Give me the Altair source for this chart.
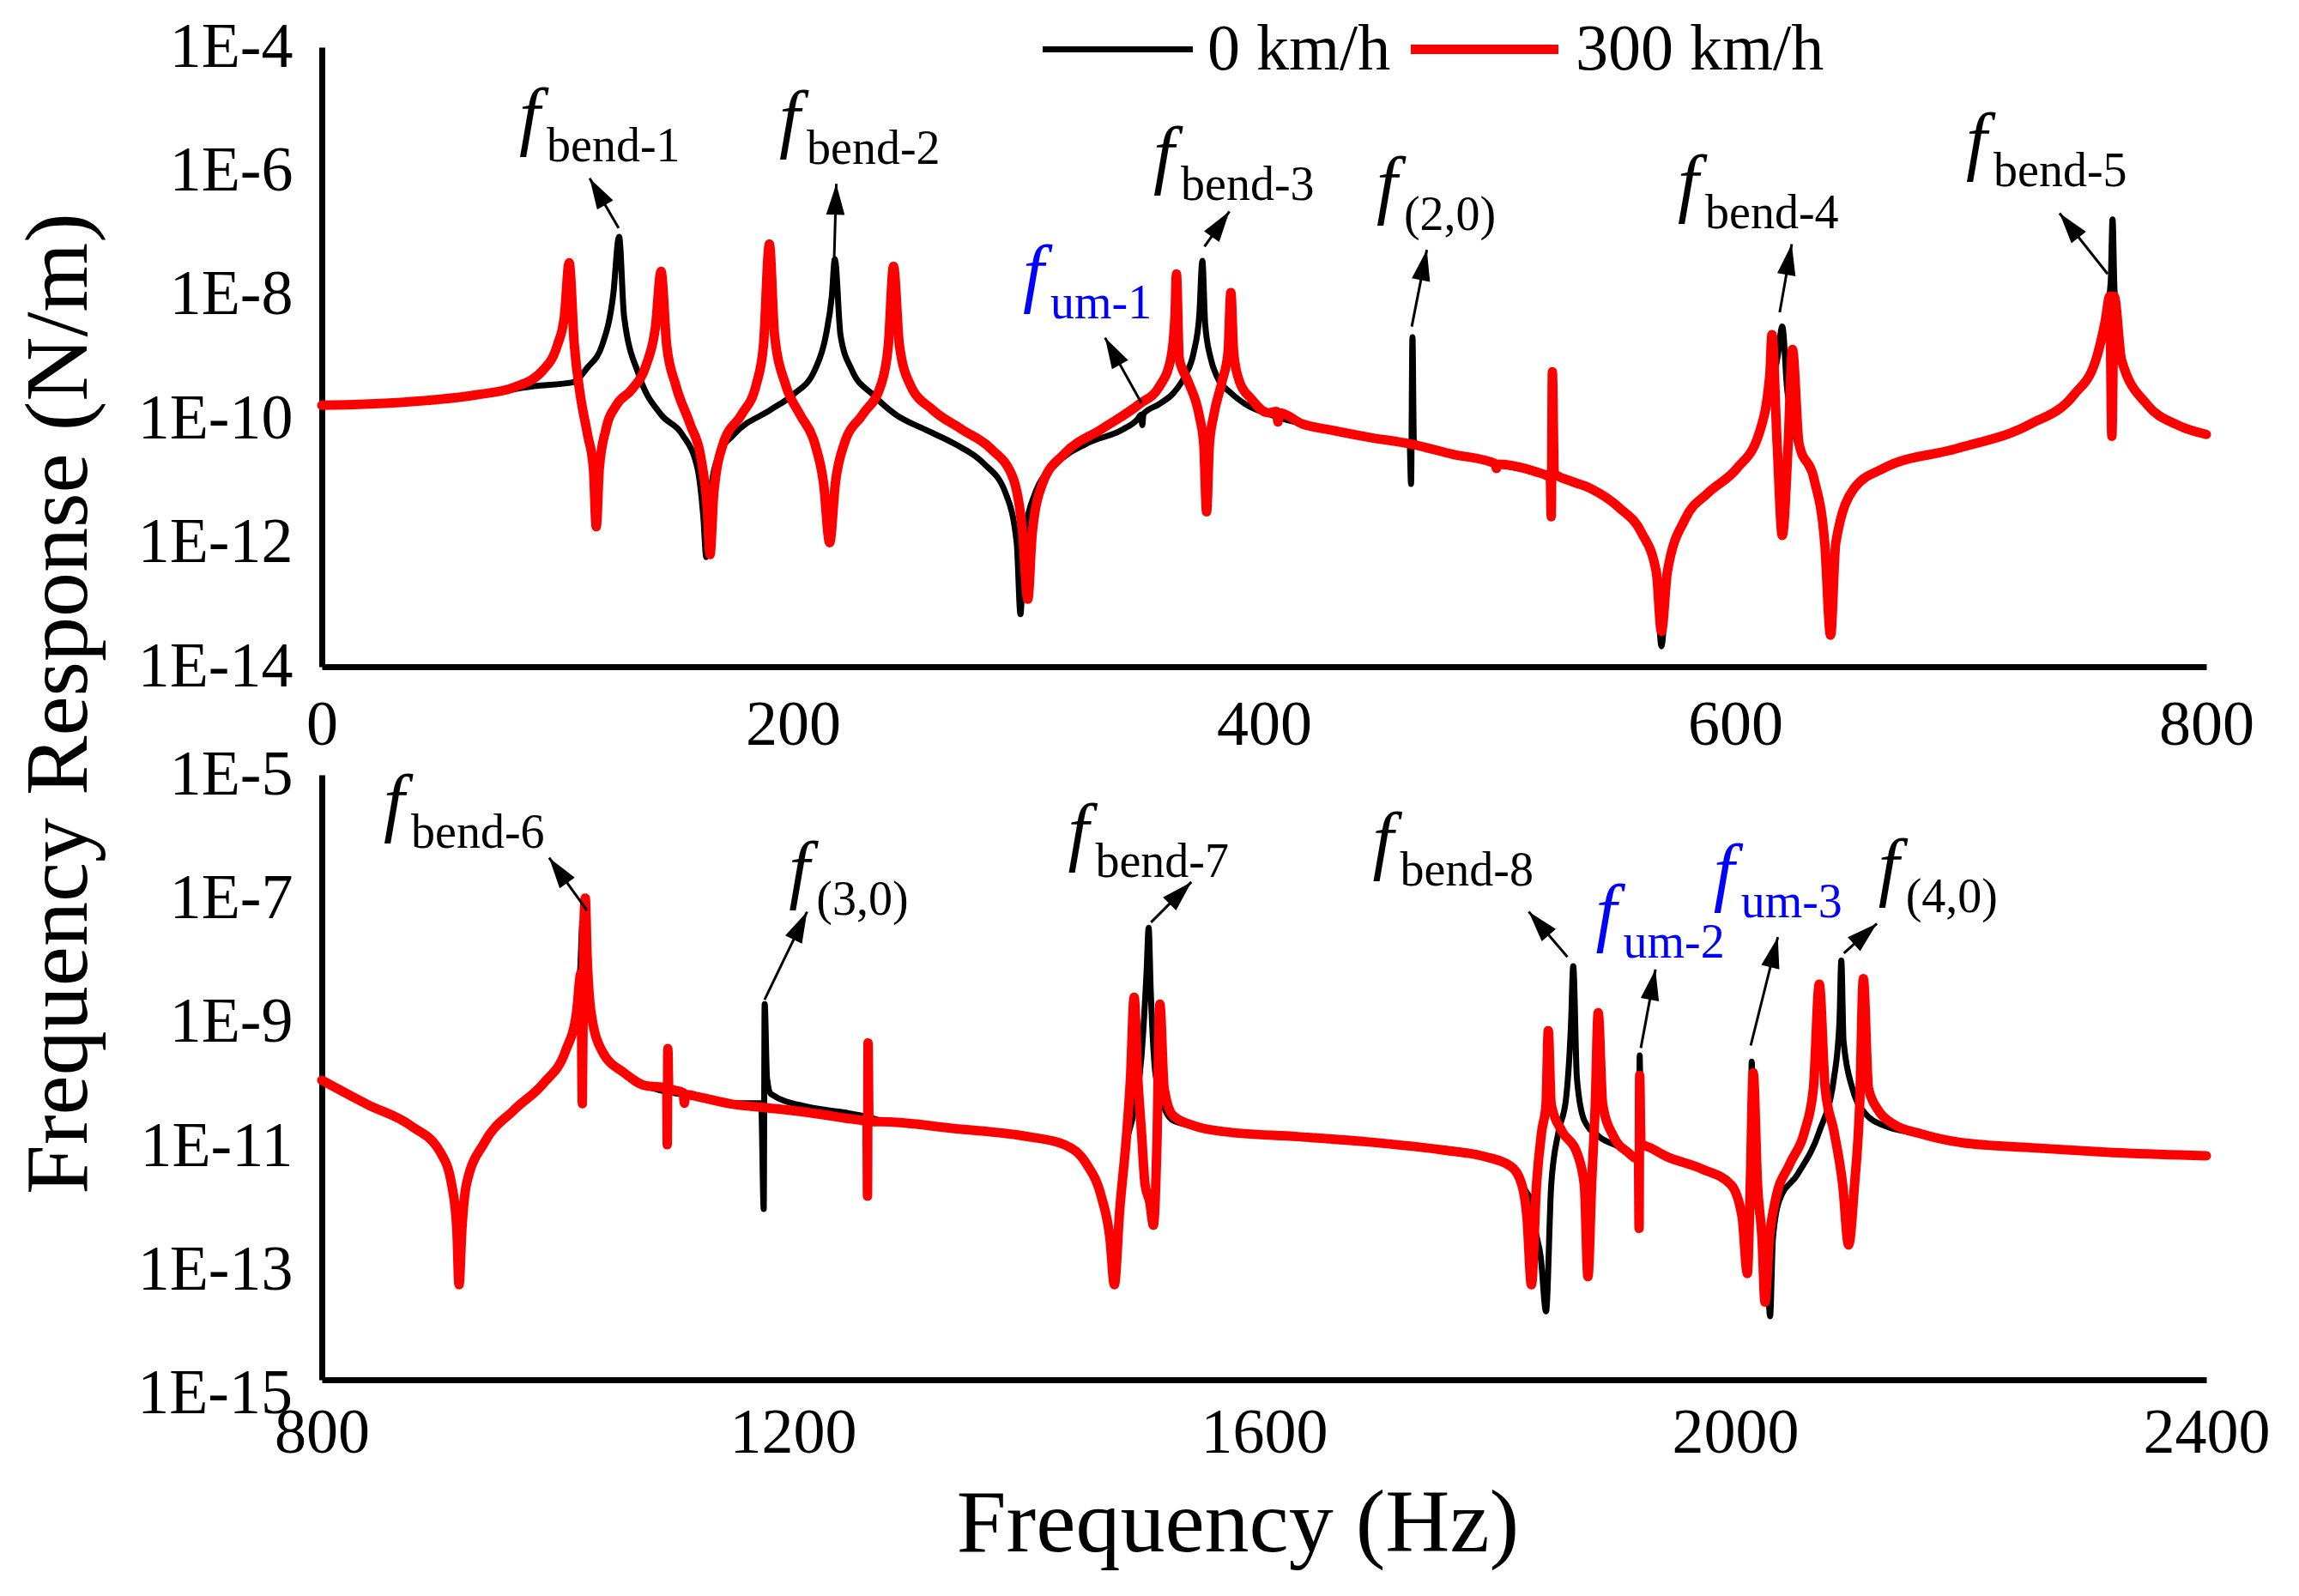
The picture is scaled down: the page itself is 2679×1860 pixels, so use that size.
import math
import altair as alt
import pandas as pd

FONT = "Liberation Serif"
series = ["0 km/h", "300 km/h"]
colors = ["#000000", "#ff0000"]
widths = [7, 11]
y_title = "Frequency Response (N/m)"
x_title = "Frequency (Hz)"

# ---------------- top panel (0-800 Hz), values as log10 exponents ----------------
top_f_0 = [0, 35, 66, 90, 106.5, 112.8, 119, 123.7, 126.2, 128.3, 134.6, 144, 153, 159.5, 162, 163.2, 165, 168.8,
           175, 190.6, 200, 209.3, 214, 216.5, 217.8, 220.2, 225, 234, 243.6, 256, 268.5, 281, 290.3, 295, 296.6,
           298, 302.8, 312, 324.6, 340, 346.4, 347.8, 348.3, 348.8, 355.5, 361.6, 366.5, 370.1, 372.5, 373.8, 375,
           377.4, 379.8, 385.9, 392, 404.1, 416.2, 428.4, 450, 461.8, 462.4, 463.0, 463.6, 480, 498.7, 521, 530,
           538.5, 551, 560.3, 566.5, 568.7, 571.2, 579, 588.3, 600.7, 610, 615, 618, 620, 622, 625, 630, 635, 638,
           640.5, 642.7, 650.5, 662.9, 694, 725, 743.8, 753.1, 757.1, 759.4, 760.2, 761.0, 764, 774.9, 787.3, 800]
top_e_0 = [-9.78, -9.73, -9.62, -9.47, -9.41, -9.17, -8.81, -8.0, -7.06, -8.34, -9.29, -9.93, -10.25, -10.8, -11.6,
           -12.23, -11.2, -10.56, -10.25, -9.85, -9.61, -9.21, -8.65, -8.02, -7.42, -8.65, -9.21, -9.61, -9.93,
           -10.17, -10.4, -10.72, -11.2, -12.0, -13.15, -12.0, -11.2, -10.72, -10.4, -10.17, -10.0, -9.93, -10.1,
           -9.92, -9.76, -9.58, -9.3, -8.93, -8.33, -7.45, -8.47, -9.03, -9.30, -9.58, -9.76, -9.95, -10.08, -10.2,
           -10.33, -10.4, -11.05, -8.68, -10.38, -10.55, -10.73, -10.9, -11.0, -11.12, -11.44, -11.84, -12.47,
           -13.67, -12.47, -11.6, -11.2, -10.8, -10.3, -9.6, -9.0, -8.51, -9.5, -10.2, -10.7, -11.2, -12.0, -13.3,
           -12.0, -11.12, -10.8, -10.48, -10.09, -9.61, -9.05, -8.42, -7.8, -6.78, -7.9, -9.05, -9.77, -10.09,
           -10.25]

top_f_300 = [0, 35, 66, 81.6, 94, 100, 103, 105, 107.2, 109.7, 112.8, 115.3, 116.5, 117.8, 120.6, 125.2, 131.5,
             137.7, 141.7, 144, 146.4, 150.2, 156.4, 161, 163.6, 164.8, 166.4, 170.4, 178.2, 184.4, 187.5, 190,
             192.2, 196.9, 203, 209.3, 213, 215.6, 218, 221.8, 229.6, 237.4, 240.5, 242.7, 245.2, 249.8, 259.2,
             271.7, 284, 293.5, 297.5, 299.7, 301.6, 306, 315.3, 330.8, 347.1, 355.5, 360.4, 362.2, 362.8, 364.0,
             367.7, 372.5, 374.4, 375.6, 376.8, 378.6, 382.2, 384.7, 385.9, 387.1, 389.5, 394.4, 401.7, 405.3,
             405.9, 406.5, 416.2, 428.4, 445, 463, 480, 498.0, 498.7, 499.4, 515, 521.5, 521.9, 522.4, 523.2, 530,
             538.5, 551, 560.3, 566.5, 568.7, 571.2, 579, 588.3, 600.7, 610, 614.7, 615.6, 617.8, 620, 622.5,
             624.3, 627.1, 633.4, 638, 640.5, 642.7, 650.5, 662.9, 694, 725, 743.8, 753.1, 757.1, 759.0, 759.9,
             760.9, 764, 774.9, 787.3, 800]
top_e_300 = [-9.78, -9.73, -9.61, -9.49, -9.21, -8.81, -8.34, -7.48, -8.81, -9.61, -10.25, -10.8, -11.74, -10.8,
             -10.17, -9.77, -9.53, -9.13, -8.5, -7.62, -8.81, -9.45, -10.09, -10.64, -11.44, -12.19, -11.2, -10.4,
             -9.93, -9.45, -8.81, -7.18, -8.65, -9.45, -9.93, -10.4, -11.04, -12.0, -11.04, -10.4, -9.93, -9.45,
             -8.81, -7.54, -8.81, -9.45, -9.85, -10.17, -10.48, -10.96, -11.84, -12.91, -11.84, -11.04, -10.56,
             -10.17, -9.76, -9.48, -9.03, -8.33, -7.66, -9.03, -9.39, -9.95, -10.41, -11.5, -10.41, -9.95, -9.39,
             -8.93, -7.96, -8.93, -9.39, -9.67, -9.9, -9.88, -10.05, -9.9, -10.08, -10.18, -10.3, -10.41, -10.57,
             -10.72, -10.8, -10.73, -10.85, -10.95, -11.58, -9.24, -10.88, -11.0, -11.12, -11.44, -11.84, -12.47,
             -13.43, -12.47, -11.6, -11.2, -10.8, -10.25, -9.29, -8.64, -10.4, -11.88, -10.4, -8.88, -10.4, -10.96,
             -12.0, -13.49, -12.0, -11.12, -10.8, -10.48, -10.09, -9.61, -9.05, -8.42, -8.02, -10.28, -8.02, -9.05,
             -9.77, -10.09, -10.25]

# ---------------- bottom panel (800-2400 Hz) ----------------
bot_f_0 = [800, 838.6, 876, 900.9, 910.3, 914.6, 916.5, 919, 922.7, 938.3, 963.2, 988.2, 1006.9, 1016.2, 1019.5,
           1021.3, 1022.8, 1025, 1028.7, 1038, 1056.7, 1075.4, 1120, 1150, 1173, 1175.2, 1176, 1178, 1181.3,
           1212.5, 1243.6, 1263, 1274.8, 1337, 1399.4, 1430.5, 1449.2, 1461.7, 1469.2, 1472.9, 1477.3, 1480.4,
           1489.7, 1495.9, 1500.3, 1502, 1503.8, 1507.1, 1510.2, 1522.7, 1541.4, 1566.4, 1628.7, 1691, 1753.4,
           1784.6, 1809.5, 1818.9, 1823.2, 1827, 1830.1, 1835, 1839.4, 1843.8, 1850, 1856.3, 1860.6, 1862.5,
           1865.6, 1871.9, 1884.4, 1903, 1915.5, 1917.9, 1918.4, 1918.9, 1920, 1928, 1940.5, 1971.6, 1996.6,
           2005.9, 2011, 2013.2, 2014, 2016, 2022, 2027, 2029.6, 2032, 2037.3, 2052.9, 2071.4, 2083.9, 2088.5,
           2090.1, 2092, 2099.5, 2112, 2127.5, 2158.7, 2189.9, 2252.2, 2314.6, 2400]
bot_e_0 = [-9.93, -10.32, -10.67, -11.1, -11.62, -12.32, -13.23, -12.32, -11.62, -10.93, -10.41, -9.98, -9.46,
           -8.85, -8.1, -7.38, -8.3, -8.6, -8.95, -9.5, -9.81, -10.02, -10.2, -10.3, -10.3, -12.01, -8.7, -9.9,
           -10.15, -10.36, -10.45, -10.52, -10.58, -10.71, -10.84, -10.97, -11.28, -11.8, -12.49, -13.23, -12.2,
           -11.28, -10.41, -9.55, -8.16, -7.47, -8.5, -9.7, -10.06, -10.58, -10.67, -10.76, -10.84, -10.93,
           -11.06, -11.15, -11.32, -11.62, -11.75, -11.88, -12.32, -12.8, -13.66, -11.62, -10.76, -10.24, -9.03,
           -8.09, -9.89, -10.58, -10.84, -11.02, -11.19, -11.22, -11.7, -9.53, -10.95, -11.02, -11.15, -11.36,
           -11.62, -12.14, -12.6, -11.2, -9.63, -11.5, -12.3, -12.8, -13.74, -12.5, -11.88, -11.45, -10.76, -9.89,
           -9.0, -8.0, -9.3, -10.06, -10.5, -10.67, -10.8, -10.93, -11.02, -11.09, -11.15]

bot_f_300 = [800, 838.6, 876, 900.9, 910.3, 914.6, 916.5, 919, 922.7, 938.3, 963.2, 988.2, 1006.9, 1016.2, 1020,
             1021.2, 1022.4, 1023.7, 1025.2, 1028.7, 1038, 1056.7, 1075.4, 1092.8, 1093.3, 1093.8, 1094.6, 1106.8,
             1107.8, 1108.8, 1120, 1150, 1175, 1212.5, 1243.6, 1262.9, 1263.3, 1263.8, 1264.6, 1274.8, 1337,
             1399.4, 1430.5, 1449.2, 1461.7, 1469.2, 1472.9, 1477.3, 1483.5, 1486.6, 1489.7, 1492.8, 1495.9, 1499,
             1503, 1506, 1509, 1511.5, 1515.2, 1522.7, 1541.4, 1566.4, 1628.7, 1691, 1753.4, 1784.6, 1809.5,
             1818.9, 1823.2, 1827, 1831.3, 1835.7, 1839.4, 1841.3, 1843.8, 1853.2, 1865.6, 1871.9, 1875, 1878.1,
             1881.2, 1883.7, 1887.5, 1896.8, 1909.3, 1915.5, 1917.9, 1918.4, 1918.9, 1920, 1928, 1940.5, 1971.6,
             1996.6, 2005.9, 2010.3, 2012.8, 2015.3, 2019, 2022.8, 2025.3, 2029, 2034, 2046.4, 2058.9, 2066.4,
             2071.4, 2076.4, 2083.9, 2091.3, 2096.3, 2101.3, 2105.7, 2108.8, 2113.2, 2121.3, 2133.7, 2158.7,
             2189.9, 2252.2, 2314.6, 2400]
bot_e_300 = [-9.93, -10.32, -10.67, -11.1, -11.62, -12.32, -13.23, -12.32, -11.62, -10.93, -10.41, -9.98, -9.46,
             -8.85, -8.2, -10.31, -7.6, -6.99, -7.9, -8.85, -9.46, -9.81, -10.02, -10.05, -10.97, -9.42, -10.06,
             -10.13, -10.3, -10.16, -10.2, -10.32, -10.37, -10.45, -10.54, -10.6, -11.8, -9.33, -10.6, -10.6,
             -10.71, -10.84, -10.97, -11.28, -11.8, -12.49, -13.23, -12.06, -10.76, -9.89, -8.59, -9.89, -10.76,
             -11.62, -11.9, -12.27, -11.0, -8.7, -10.06, -10.5, -10.67, -10.76, -10.84, -10.93, -11.06, -11.15,
             -11.32, -11.62, -12.14, -13.23, -11.62, -10.76, -10.32, -9.13, -10.32, -10.76, -11.1, -11.62, -13.1,
             -11.62, -10.32, -8.84, -10.32, -10.84, -11.1, -11.19, -11.2, -12.32, -9.85, -10.95, -11.02, -11.15,
             -11.36, -11.62, -12.14, -13.05, -11.62, -9.81, -11.62, -12.49, -13.51, -12.49, -11.88, -11.28, -10.76,
             -10.06, -8.38, -10.06, -10.76, -11.62, -12.59, -11.62, -10.32, -8.29, -10.06, -10.41, -10.63, -10.8,
             -10.93, -11.02, -11.09, -11.15]

# ---------------- annotations ----------------
top_ann_sub = ["bend-1", "bend-2", "bend-3", "um-1", "(2,0)", "bend-4", "bend-5"]
top_ann_col = ["#000000", "#000000", "#000000", "#0000ff", "#000000", "#000000", "#000000"]
top_ann_f = [86.0, 196.4, 355.2, 299.8, 449.9, 577.8, 700.2]
top_ann_e = [-5.505, -5.546, -6.129, -8.043, -6.614, -6.587, -5.907]
top_tail_f = [126.0, 217.5, 374.7, 347.9, 462.7, 618.9, 758.1]
top_tail_e = [-6.92, -7.42, -7.22, -9.74, -8.51, -8.28, -7.66]
top_tip_f = [113.7, 218.4, 385.3, 332.5, 469.1, 624.0, 737.7]
top_tip_e = [-6.115, -6.205, -6.65, -8.69, -7.27, -7.18, -6.68]

bot_ann_sub = ["bend-6", "(3,0)", "bend-7", "bend-8", "um-2", "um-3", "(4,0)"]
bot_ann_col = ["#000000", "#000000", "#000000", "#000000", "#0000ff", "#0000ff", "#000000"]
bot_ann_f = [856.9, 1200.9, 1437.8, 1696.5, 1886.0, 1985.9, 2125.8]
bot_ann_e = [-5.845, -6.925, -6.316, -6.454, -7.618, -6.967, -6.884]
bot_tail_f = [1025.2, 1175.9, 1504, 1857.6, 1919.9, 2013.2, 2092.3]
bot_tail_e = [-7.19, -8.63, -7.38, -7.94, -9.41, -9.37, -7.88]
bot_tip_f = [993, 1212, 1538.3, 1824.7, 1932.3, 2036.2, 2120.3]
bot_tip_e = [-6.34, -7.21, -6.73, -7.21, -8.14, -7.62, -7.40]

# axis ranges (log10 exponents) and tick labels
top_x_ticks = [0, 200, 400, 600, 800]
bot_x_ticks = [800, 1200, 1600, 2000, 2400]
top_y_ticks = [-4, -6, -8, -10, -12, -14]
bot_y_ticks = [-5, -7, -9, -11, -13]
bot_extra_label = "1E-15"        # printed just below the bottom panel's x axis line
top_edom = (-14.0, -4.0)
bot_edom = (-14.765, -5.0)

W = 2196
PX_PER_DECADE = 72.15
ARROW = "M0,0L-0.3,1L0.3,1Z"


def curve_df(freqs, exps):
    return pd.DataFrame({"freq": freqs, "resp": [10.0 ** e for e in exps]})


def panel(xdom, edom, yticks, fb, eb, fr, er, ann, arrows, xaxis, xt, extra=None):
    H = round((edom[1] - edom[0]) * PX_PER_DECADE)
    ydom = [10.0 ** edom[0], 10.0 ** edom[1]]
    xs = alt.Scale(domain=xdom, nice=False, zero=False)
    ys = alt.Scale(type="log", domain=ydom, nice=False)
    yaxis = alt.Axis(values=[10.0 ** e for e in yticks], labelExpr="'1E' + round(log(datum.value)/LN10)",
                     labelPadding=34, labelFlush=False, labelOverlap=False, labelLimit=0)

    def X(field):
        return alt.X(field, type="quantitative", scale=xs, axis=xaxis, title=xt)

    def Y(field):
        return alt.Y(field, type="quantitative", scale=ys, axis=yaxis, title=None)

    layers = []
    for i, (ff, ee) in enumerate([(fb, eb), (fr, er)]):
        layers.append(
            alt.Chart(curve_df(ff, ee)).mark_line(
                color=colors[i], strokeWidth=widths[i], interpolate="monotone",
                strokeJoin="round", strokeCap="round")
            .encode(x=X("freq"), y=Y("resp"), order="freq")
        )
    # arrows
    af, ae, tf, te = arrows
    rows = []
    for a, b, c, d in zip(af, ae, tf, te):
        px0 = (a - xdom[0]) / (xdom[1] - xdom[0]) * W
        px1 = (c - xdom[0]) / (xdom[1] - xdom[0]) * W
        py0 = (edom[1] - b) / (edom[1] - edom[0]) * H
        py1 = (edom[1] - d) / (edom[1] - edom[0]) * H
        ang = math.degrees(math.atan2(px1 - px0, -(py1 - py0))) % 360
        rows.append({"f0": a, "v0": 10.0 ** b, "f1": c, "v1": 10.0 ** d, "ang": ang})
    adf = pd.DataFrame(rows)
    layers.append(alt.Chart(adf).mark_rule(color="black", strokeWidth=3).encode(
        x=X("f0"), y=Y("v0"), x2="f1", y2="v1"))
    layers.append(alt.Chart(adf).mark_point(shape=ARROW, filled=True, size=5184, color="black",
                                            opacity=1, strokeWidth=0).encode(
        x=X("f1"), y=Y("v1"), angle=alt.Angle("ang:Q", scale=None)))
    # labels
    sub, col, lf, le = ann
    ldf = pd.DataFrame({"f": lf, "v": [10.0 ** e for e in le], "sub": sub, "col": col})
    layers.append(alt.Chart(ldf).mark_text(font=FONT, fontStyle="italic", fontSize=88, align="left",
                                           baseline="alphabetic", dx=-6).encode(
        x=X("f"), y=Y("v"), text=alt.value("f"), color=alt.Color("col:N", scale=None)))
    layers.append(alt.Chart(ldf).mark_text(font=FONT, fontSize=56, align="left", baseline="alphabetic",
                                           dx=26, dy=24).encode(
        x=X("f"), y=Y("v"), text="sub:N", color=alt.Color("col:N", scale=None)))
    if extra:
        layers.extend(extra)
    return alt.layer(*layers).properties(width=W, height=H)


# legend + y title (drawn in the top panel, placed in pixels)
extra = []
leg_x1, leg_x2, leg_tx = [840, 1269], [1015, 1441], [1032, 1461]
for i, name in enumerate(series):
    d = pd.DataFrame({"label": [name]})
    extra.append(alt.Chart(d).mark_rule(color=colors[i], strokeWidth=widths[i]).encode(
        x=alt.value(leg_x1[i]), x2=alt.value(leg_x2[i]), y=alt.value(2.5)))
    extra.append(alt.Chart(d).mark_text(font=FONT, fontSize=76, align="left", baseline="middle",
                                        color="black").encode(
        x=alt.value(leg_tx[i]), y=alt.value(2.5), text="label:N"))
extra.append(alt.Chart(pd.DataFrame({"t": [y_title]})).mark_text(
    font=FONT, fontSize=104, angle=270, align="center", baseline="middle", color="black").encode(
    x=alt.value(-305), y=alt.value(765), text="t:N"))

bot_H = round((bot_edom[1] - bot_edom[0]) * PX_PER_DECADE)
extra_bot = [alt.Chart(pd.DataFrame({"t": [bot_extra_label]})).mark_text(
    font=FONT, fontSize=74, align="right", baseline="middle", color="black").encode(
    x=alt.value(-34), y=alt.value(bot_H + 17), text="t:N")]

top_xaxis = alt.Axis(values=top_x_ticks, format="d", labelPadding=32, labelFlush=False,
                     labelOverlap=False)
bot_xaxis = alt.Axis(values=bot_x_ticks, format="d", labelPadding=26, labelFlush=False,
                     labelOverlap=False, titleX=1067, titleY=199, titleBaseline="alphabetic",
                     titleAlign="center", titleAnchor="start")

top = panel([0, 800], top_edom, top_y_ticks, top_f_0, top_e_0, top_f_300, top_e_300,
            (top_ann_sub, top_ann_col, top_ann_f, top_ann_e),
            (top_tail_f, top_tail_e, top_tip_f, top_tip_e), top_xaxis, None, extra)
bottom = panel([800, 2400], bot_edom, bot_y_ticks, bot_f_0, bot_e_0, bot_f_300, bot_e_300,
               (bot_ann_sub, bot_ann_col, bot_ann_f, bot_ann_e),
               (bot_tail_f, bot_tail_e, bot_tip_f, bot_tip_e), bot_xaxis, x_title, extra_bot)

chart = alt.vconcat(top, bottom, spacing=126, bounds="flush").properties(
    padding={"left": 10, "top": 10, "right": 5, "bottom": 5}
).configure_view(stroke=None).configure_axis(
    domainWidth=7, domainColor="black", ticks=False, tickSize=0, grid=False,
    labelFont=FONT, labelFontSize=74, labelColor="black",
    titleFont=FONT, titleFontSize=104, titleFontWeight="normal", titleColor="black"
)

chart.save("out.html", embed_options={"renderer": "svg", "actions": False})
